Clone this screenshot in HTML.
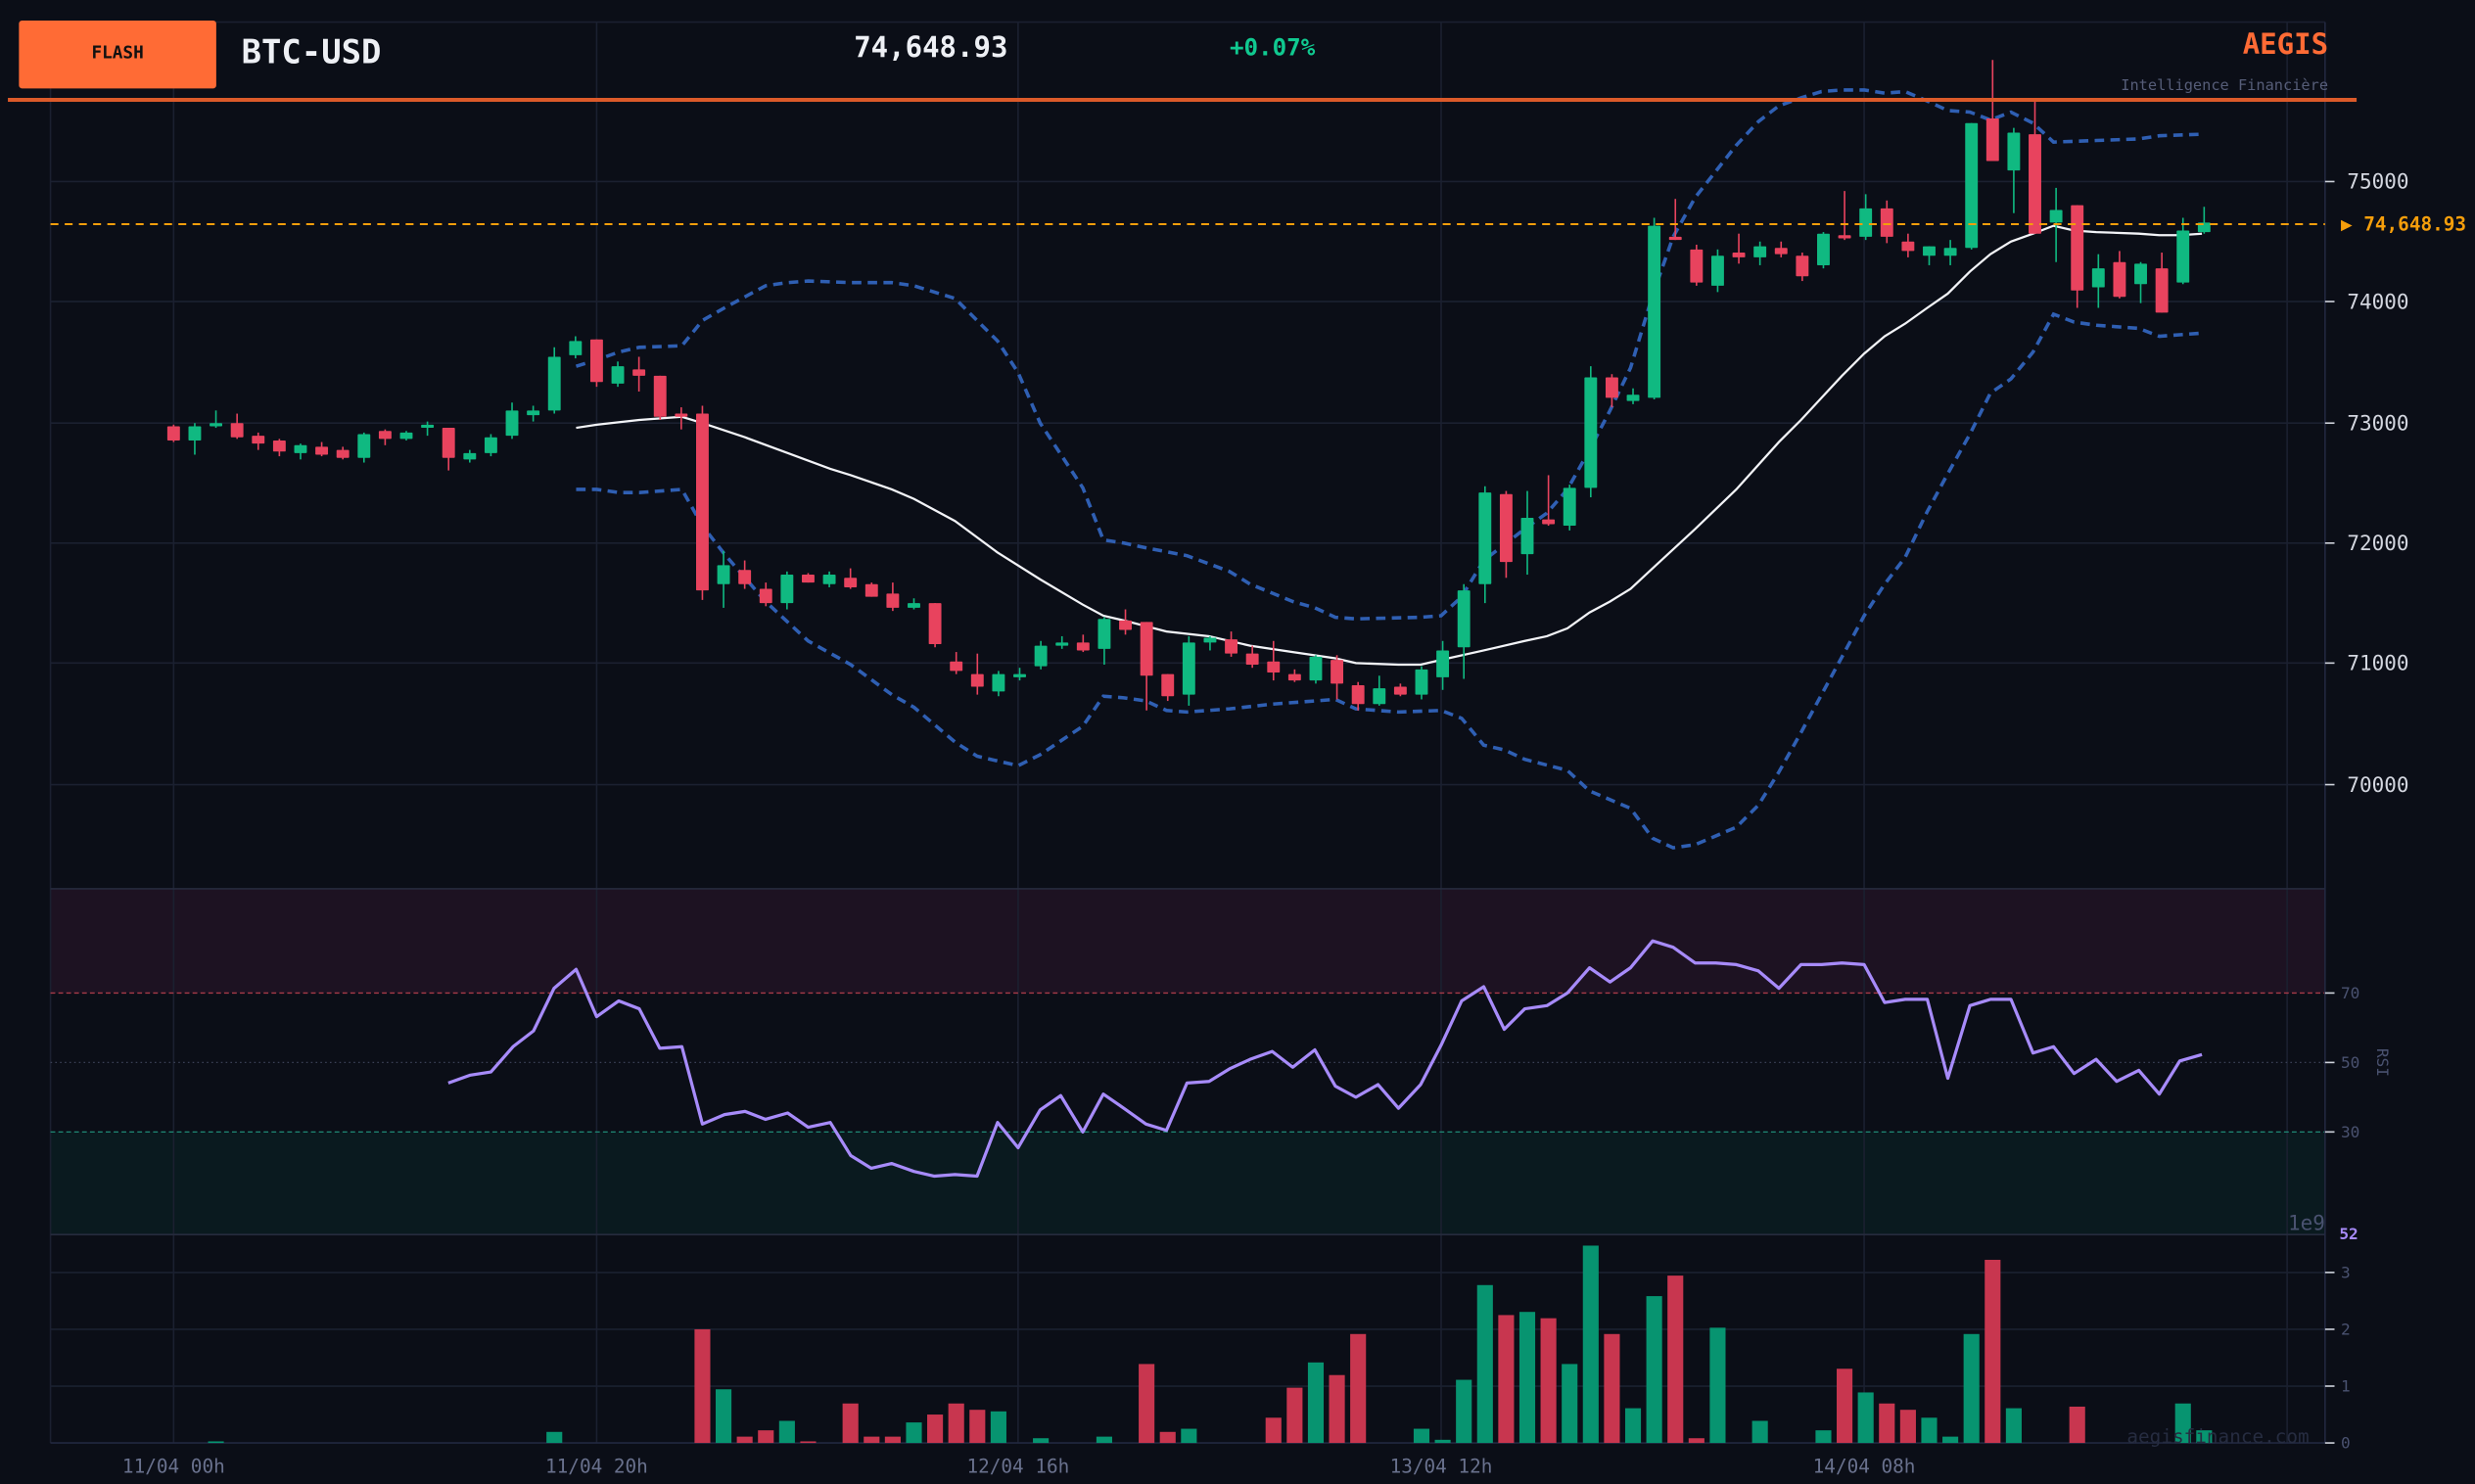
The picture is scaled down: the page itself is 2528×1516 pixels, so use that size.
<!DOCTYPE html>
<html><head><meta charset="utf-8">
<style>
html,body{margin:0;padding:0;background:#0b0e17;overflow:hidden}
svg{display:block}
text{font-family:"DejaVu Sans Mono","Liberation Mono",monospace}
</style></head>
<body>
<svg id="s" xmlns="http://www.w3.org/2000/svg" width="2528" height="1516" viewBox="0 0 1568 940" preserveAspectRatio="none">
<rect width="1568" height="940" fill="#0b0e17"/>
<!-- RSI bands -->
<rect x="32" y="563" width="1441" height="66" fill="#1d1222"/>
<rect x="32" y="717" width="1441" height="65" fill="#0a1a1f"/>
<g id="grid" stroke="#1b2030" stroke-width="1"></g>
<line x1="32" y1="629" x2="1473" y2="629" stroke="#a83a48" stroke-width="0.8" stroke-dasharray="3,2"/>
<line x1="32" y1="673" x2="1473" y2="673" stroke="#3a4055" stroke-width="0.8" stroke-dasharray="1,2"/>
<line x1="32" y1="717" x2="1473" y2="717" stroke="#1f8a76" stroke-width="0.8" stroke-dasharray="3,2"/>
<line x1="1473" y1="14" x2="1473" y2="914" stroke="#222840" stroke-width="1"/>
<line x1="32" y1="914" x2="1473" y2="914" stroke="#222840" stroke-width="1"/>
<g id="vol"></g>
<g id="bb" fill="none"></g>
<g id="cdl"></g>
<!-- current price line -->
<line x1="32" y1="142" x2="1473" y2="142" stroke="#f59e0b" stroke-width="1.3" stroke-dasharray="5,4"/>
<text x="1483" y="146" fill="#f59e0b" font-size="12" font-weight="bold">▶ 74,648.93</text>
<g id="rsi" fill="none"></g>
<g id="ax"></g>
<!-- header -->
<rect x="12" y="13" width="125" height="43" rx="2" fill="#ff6b35"/>
<text x="74.5" y="37" fill="#111" font-size="11" font-weight="bold" text-anchor="middle">FLASH</text>
<text x="153" y="40" fill="#eef0f5" font-size="21" font-weight="bold">BTC-USD</text>
<text x="541" y="36" fill="#eef0f5" font-size="18" font-weight="bold">74,648.93</text>
<text x="779" y="35" fill="#10c990" font-size="15" font-weight="bold">+0.07%</text>
<text x="1475" y="34" fill="#ff6b35" font-size="18" font-weight="bold" text-anchor="end">AEGIS</text>
<text x="1475" y="57" fill="#565d78" font-size="9.5" text-anchor="end">Intelligence Financière</text>
<rect x="5" y="62" width="1488" height="2.5" fill="#dc5a2a"/>
<text x="1463" y="914" fill="#262c40" font-size="12" text-anchor="end">aegisfinance.com</text>
</svg>
<script>
const NS="http://www.w3.org/2000/svg";
function el(p,t,a,txt){const e=document.createElementNS(NS,t);for(const k in a)e.setAttribute(k,a[k]);if(txt!=null)e.textContent=txt;document.getElementById(p).appendChild(e);return e;}
// grid
[115,191,268,344,420,497,806,842,878].forEach(y=>el('grid','line',{x1:32,y1:y,x2:1473,y2:y}));
el('grid','line',{x1:32,y1:14,x2:1473,y2:14});
[32,110,378,645,913,1181,1449].forEach(x=>el('grid','line',{x1:x,y1:14,x2:x,y2:914}));
el('grid','line',{x1:32,y1:563,x2:1473,y2:563,stroke:'#262b3d'});
el('grid','line',{x1:32,y1:782,x2:1473,y2:782,stroke:'#262b3d'});
// axis labels
[[115,'75000'],[191,'74000'],[268,'73000'],[344,'72000'],[420,'71000'],[497,'70000']].forEach(([y,t])=>{
 el('ax','line',{x1:1473,y1:y,x2:1479,y2:y,stroke:'#cfd3dc','stroke-width':1});
 el('ax','text',{x:1487,y:y+4.5,fill:'#d4d7e0','font-size':13},t);});
[[629,'70'],[673,'50'],[717,'30']].forEach(([y,t])=>{
 el('ax','line',{x1:1473,y1:y,x2:1479,y2:y,stroke:'#cfd3dc','stroke-width':1});
 el('ax','text',{x:1483,y:y+3.5,fill:'#4a5270','font-size':10},t);});
[[806,'3'],[842,'2'],[878,'1'],[914,'0']].forEach(([y,t])=>{
 el('ax','line',{x1:1473,y1:y,x2:1479,y2:y,stroke:'#cfd3dc','stroke-width':1});
 el('ax','text',{x:1483,y:y+3.5,fill:'#4a5270','font-size':10},t);});
el('ax','text',{x:1509,y:673,fill:'#4a5270','font-size':10,'text-anchor':'middle',transform:'rotate(90 1509 673) translate(0 3)'},'RSI');
el('ax','text',{x:1482,y:785,fill:'#a78bfa','font-size':10,'font-weight':'bold'},'52');
el('ax','text',{x:1473,y:779,fill:'#4a5270','font-size':13,'text-anchor':'end'},'1e9');
[[110,'11/04 00h'],[378,'11/04 20h'],[645,'12/04 16h'],[913,'13/04 12h'],[1181,'14/04 08h']].forEach(([x,t])=>{
 el('ax','text',{x:x,y:933,fill:'#69718d','font-size':12,'text-anchor':'middle'},t);});
// candles [open,close,high,low] in y px
const C=[[270,279,269,280],[279,270,268,288],[270,268,260,271],[268,277,262,278],[276,281,274,285],[279,286,278,289],[287,282,281,291],[283,288,280,289],[285,290,283,291],[290,275,274,293],
[273,278,272,282],[278,274,273,279],[271,269,267,276],[271,290,271,298],[291,287,285,293],[287,277,275,289],[276,260,255,278],[263,260,257,267],[260,226,220,262],[225,216,213,227],
[215,242,215,245],[243,232,229,245],[234,238,226,248],[238,264,238,266],[262,264,258,272],[262,374,257,380],[370,358,349,385],[361,370,355,373],[373,382,369,384],[382,364,362,386],
[364,369,363,369],[370,364,362,372],[366,372,360,373],[370,378,369,378],[376,385,369,387],[385,382,379,386],[382,408,382,410],[419,425,413,427],[427,435,414,440],[438,427,425,441],
[429,427,423,431],[422,409,406,424],[409,407,403,411],[407,412,402,413],[411,392,391,421],[393,399,386,402],[394,428,394,450],[427,441,427,444],[440,407,403,447],[407,404,403,412],
[405,414,400,416],[414,421,409,423],[419,426,406,431],[427,431,424,432],[431,416,415,433],[418,433,415,443],[434,446,432,450],[446,436,428,447],[435,440,433,441],[440,424,422,443],
[429,412,406,437],[410,374,370,430],[370,312,308,382],[313,356,311,366],[351,328,311,364],[329,332,301,333],[333,309,307,336],[309,239,232,315],[239,252,237,258],[254,250,246,256],
[252,143,138,253],[150,152,126,152],[158,179,155,181],[181,162,158,185],[160,163,148,167],[163,156,153,168],[157,161,153,163],[162,175,160,178],[168,148,147,170],[149,151,121,152],
[150,132,123,152],[132,150,127,154],[153,159,148,163],[162,156,156,168],[162,157,152,168],[157,78,78,158],[75,102,38,102],[108,84,81,135],[85,148,63,148],[141,133,119,166],
[130,184,130,195],[182,170,161,195],[166,188,159,189],[180,167,166,192],[170,198,160,198],[179,146,138,180],[147,141,131,148]];
const X=i=>110+13.4*i;
C.forEach((c,i)=>{const x=X(i),up=c[1]<c[0],col=up?'#10b981':'#e8435e';
 el('cdl','line',{x1:x,y1:c[2],x2:x,y2:c[3],stroke:col,'stroke-width':1});
 const t=Math.min(c[0],c[1]),h=Math.max(1.5,Math.abs(c[0]-c[1]));
 el('cdl','rect',{x:x-4,y:t,width:8,height:h,fill:col,rx:0.5});});
// volume
const V={2:913,18:907,25:842,26:880,27:910,28:906,29:900,30:913,32:889,33:910,34:910,35:901,36:896,37:889,38:893,39:894,41:911,44:910,46:864,47:907,48:905,52:898,53:879,54:863,55:871,56:845,59:905,60:912,61:874,62:814,63:833,64:831,65:835,66:864,67:789,68:845,69:892,70:821,71:808,72:911,73:841,75:900,78:906,79:867,80:882,81:889,82:893,83:898,84:910,85:845,86:798,87:892,90:891,95:889,96:906};
for(const k in V){const i=+k,c=C[i],up=c[1]<c[0];el('vol','rect',{x:X(i)-5,y:V[k],width:10,height:914-V[k],fill:up?'#079470':'#c8364f'});}
function pl(g,pts,a){a.points=pts.map(p=>p.join(',')).join(' ');el(g,'polyline',a);}
const UP=[[365,232],[378,228],[392,223],[405,220],[432,219],[445,203],[459,195],[472,188],[485,181],[499,179],[512,178],[539,179],[565,179],[579,181],[605,189],[632,216],[645,236],[659,268],[686,309],[699,342],[712,344],[726,347],[752,352],[779,362],[792,370],[819,381],[833,385],[846,391],[859,392],[900,391],[913,390],[926,378],[940,355],[953,345],[966,335],[980,325],[993,310],[1007,285],[1020,260],[1033,233],[1047,187],[1060,150],[1074,125],[1100,92],[1114,77],[1127,67],[1141,62],[1154,58],[1167,57],[1181,57],[1194,59],[1207,58],[1221,64],[1234,70],[1248,71],[1261,76],[1274,71],[1288,78],[1301,90],[1328,89],[1355,88],[1368,86],[1395,85]];
const LO=[[365,310],[378,310],[392,312],[405,312],[432,310],[445,333],[459,351],[472,366],[485,381],[499,394],[512,406],[539,421],[565,440],[579,448],[605,470],[619,479],[645,485],[659,478],[686,460],[699,441],[712,442],[726,444],[739,450],[752,451],[779,449],[806,446],[846,443],[859,449],[886,451],[913,450],[926,455],[940,472],[953,475],[966,481],[993,488],[1007,501],[1033,512],[1047,531],[1060,537],[1074,535],[1100,524],[1114,510],[1127,489],[1141,464],[1154,440],[1167,416],[1181,390],[1194,370],[1207,353],[1221,324],[1234,300],[1248,275],[1261,249],[1274,240],[1288,223],[1301,199],[1314,204],[1328,206],[1355,208],[1368,213],[1395,211]];
const MA=[[365,271],[378,269],[405,266],[432,264],[445,268],[472,277],[499,287],[526,297],[539,301],[565,310],[579,316],[605,330],[632,350],[659,367],[686,383],[699,390],[712,393],[739,400],[766,403],[792,409],[819,413],[846,417],[859,420],[886,421],[900,421],[913,418],[940,412],[966,406],[980,403],[993,398],[1007,388],[1020,381],[1033,373],[1047,360],[1074,335],[1100,310],[1127,280],[1141,266],[1154,252],[1167,238],[1181,224],[1194,213],[1207,205],[1221,195],[1234,186],[1248,172],[1261,161],[1274,153],[1288,148],[1301,143],[1314,146],[1328,147],[1355,148],[1368,149],[1381,149],[1395,148]];
const dash={stroke:'#2f5fb3','stroke-width':2.2,'stroke-dasharray':'6,4',fill:'none'};
pl('bb',UP,Object.assign({},dash));pl('bb',LO,Object.assign({},dash));
pl('bb',MA,{stroke:'#f2f3f7','stroke-width':1.4,fill:'none'});
const R=[[284,686],[298,681],[311,679],[325,663],[338,653],[351,626],[365,614],[378,644],[392,634],[405,639],[418,664],[432,663],[445,712],[459,706],[472,704],[485,709],[499,705],[512,714],[526,711],[539,732],[552,740],[565,737],[579,742],[592,745],[605,744],[619,745],[632,711],[645,727],[659,703],[672,694],[686,717],[699,693],[712,702],[726,712],[739,716],[752,686],[766,685],[779,677],[792,671],[806,666],[819,676],[833,665],[846,688],[859,695],[873,687],[886,702],[900,687],[913,662],[926,634],[940,625],[953,652],[966,639],[980,637],[993,629],[1007,613],[1020,622],[1033,613],[1047,596],[1060,600],[1074,610],[1087,610],[1100,611],[1114,615],[1127,626],[1141,611],[1154,611],[1167,610],[1181,611],[1194,635],[1207,633],[1221,633],[1234,683],[1248,637],[1261,633],[1274,633],[1288,667],[1301,663],[1314,680],[1328,671],[1341,685],[1355,678],[1368,693],[1381,672],[1395,668]];
pl('rsi',R,{stroke:'#a78bfa','stroke-width':2,fill:'none','stroke-linejoin':'round'});
</script>
</body></html>
